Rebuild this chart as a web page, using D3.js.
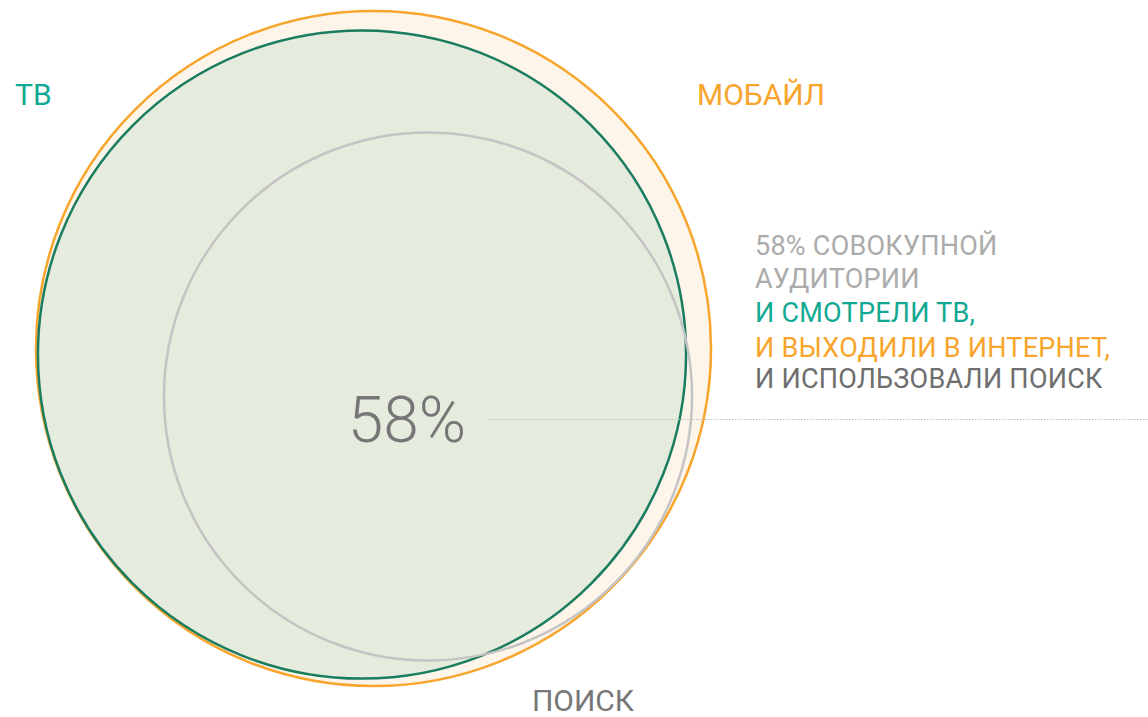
<!DOCTYPE html>
<html>
<head>
<meta charset="utf-8">
<style>
    body { margin: 0; background: #fff; }
    svg { display: block; font-family: Roboto, sans-serif; }
    .set-label { font-size: 30px; font-weight: 400; }
    .note { font-size: 27px; font-weight: 400; letter-spacing: 0.25px; }
    .big { font-size: 64px; font-weight: 300; fill: #767676; }
</style>
</head>
<body>
<svg width="1148" height="717"></svg>
<script src="https://d3js.org/d3.v7.min.js"></script>
<script>
    // share of total audience, %
    let sets = ["Мобайл", "ТВ", "Поиск"]
    let shares = [100, 92.2, 61.2]
    let overlap = 58
    let noteLines = [
        "58% совокупной",
        "аудитории",
        "и смотрели ТВ,",
        "и выходили в интернет,",
        "и использовали поиск"
    ]

    let svg = d3.select("svg")

    let r = d3.scaleSqrt()
        .domain([0, 100])
        .range([0, 337.5])

    // layout: circle centres
    let centres = {
        "Мобайл": [373.5, 348.5],
        "ТВ": [362, 354.5],
        "Поиск": [428, 396.5]
    }
    let fills = { "Мобайл": "#fdf5ea", "ТВ": "#e5ebdd", "Поиск": "none" }
    let strokes = { "Мобайл": "#f7a52c", "ТВ": "#1b7d60", "Поиск": "#c4c4c4" }

    let data = sets.map((s, i) => ({ name: s, share: shares[i] }))

    svg.append("g")
        .selectAll("circle")
        .data(data)
        .join("circle")
        .attr("cx", d => centres[d.name][0])
        .attr("cy", d => centres[d.name][1])
        .attr("r", d => r(d.share))
        .attr("fill", d => fills[d.name])
        .attr("stroke", d => strokes[d.name])
        .attr("stroke-width", 2.5)

    // dotted leader
    svg.append("line")
        .attr("x1", 489).attr("x2", 1148)
        .attr("y1", 419.5).attr("y2", 419.5)
        .attr("stroke", "#bdbdbd")
        .attr("stroke-width", 1)
        .attr("stroke-dasharray", "1.5,1.5")

    svg.append("text")
        .attr("class", "big")
        .attr("x", 407)
        .attr("y", 442)
        .attr("text-anchor", "middle")
        .text(overlap + "%")

    svg.append("text")
        .attr("class", "set-label")
        .attr("x", 15).attr("y", 105)
        .attr("fill", "#12a993")
        .text(sets[1].toUpperCase())

    svg.append("text")
        .attr("class", "set-label")
        .attr("x", 697).attr("y", 105)
        .attr("fill", "#f7a52c")
        .text(sets[0].toUpperCase())

    svg.append("text")
        .attr("class", "set-label")
        .attr("x", 583).attr("y", 711)
        .attr("text-anchor", "middle")
        .attr("fill", "#777")
        .text(sets[2].toUpperCase())

    let noteColors = ["#ababab", "#ababab", "#12a993", "#f7a52c", "#6e6e6e"]
    let lineY = [255, 288, 322, 357, 388]

    svg.append("g")
        .selectAll("text")
        .data(noteLines)
        .join("text")
        .attr("class", "note")
        .attr("x", 755)
        .attr("y", (d, i) => lineY[i])
        .attr("fill", (d, i) => noteColors[i])
        .text(d => d.toUpperCase())
</script>
</body>
</html>
